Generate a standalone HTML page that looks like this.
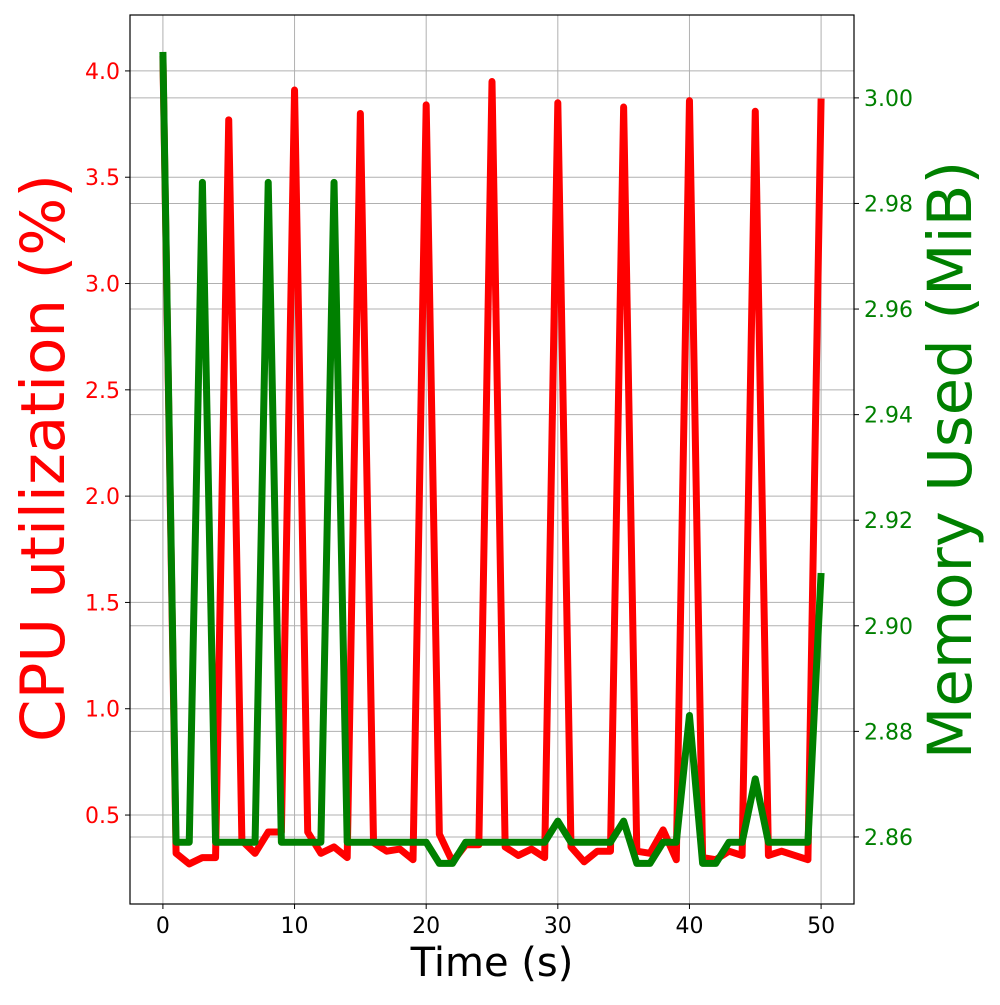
<!DOCTYPE html>
<html><head><meta charset="utf-8"><style>
body{margin:0;background:#fff}
svg text{font-family:"DejaVu Sans","Liberation Sans",sans-serif}
</style></head><body>
<svg id="chart" width="1000" height="1000" xmlns="http://www.w3.org/2000/svg">
<rect width="1000" height="1000" fill="#fff"/>
<g id="grid"></g>
<g id="lines"></g>
<rect x="130" y="15" width="724" height="889" fill="none" stroke="#000" stroke-width="1.2"/>
<g id="ticks"></g>
<text x="492" y="976" font-size="40" text-anchor="middle">Time (s)</text>
<text transform="translate(64,458) rotate(-90)" font-size="61" fill="#ff0000" text-anchor="middle">CPU utilization (%)</text>
<text transform="translate(971,460) rotate(-90)" font-size="61" fill="#008000" text-anchor="middle">Memory Used (MiB)</text>
</svg>
<script>
const times = Array.from({length:51},(_,i)=>i);
const cpuValues = [4.07,0.32,0.27,0.30,0.30,3.77,0.38,0.32,0.42,0.42,3.91,0.42,0.32,0.35,0.30,3.80,0.37,0.33,0.34,0.29,3.84,0.41,0.28,0.36,0.36,3.95,0.35,0.31,0.34,0.30,3.85,0.35,0.28,0.33,0.33,3.83,0.33,0.32,0.43,0.29,3.86,0.30,0.29,0.33,0.31,3.81,0.31,0.33,0.31,0.29,3.87];
const memValues = [3.0087,2.859,2.859,2.984,2.859,2.859,2.859,2.859,2.984,2.859,2.859,2.859,2.859,2.984,2.859,2.859,2.859,2.859,2.859,2.859,2.859,2.855,2.855,2.859,2.859,2.859,2.859,2.859,2.859,2.859,2.863,2.859,2.859,2.859,2.859,2.863,2.855,2.855,2.859,2.859,2.883,2.855,2.855,2.859,2.859,2.871,2.859,2.859,2.859,2.859,2.910];
const xTicks = [0,10,20,30,40,50];
const cpuTicks = [0.5,1.0,1.5,2.0,2.5,3.0,3.5,4.0];
const memTicks = [2.86,2.88,2.90,2.92,2.94,2.96,2.98,3.00];
const X0=130,X1=854,Y0=15,Y1=904;
const xMin=-2.5,xMax=52.5, cMin=0.0816, cMax=4.263, mMin=2.8473, mMax=3.0157;
const sx=v=>X0+(v-xMin)/(xMax-xMin)*(X1-X0);
const sc=v=>Y1-(v-cMin)/(cMax-cMin)*(Y1-Y0);
const sm=v=>Y1-(v-mMin)/(mMax-mMin)*(Y1-Y0);
const NS="http://www.w3.org/2000/svg";
function mk(tag,attrs,parent){const e=document.createElementNS(NS,tag);for(const k in attrs)e.setAttribute(k,attrs[k]);parent.appendChild(e);return e;}
const grid=document.getElementById('grid'),lines=document.getElementById('lines'),ticks=document.getElementById('ticks');
xTicks.forEach(t=>{const x=sx(t);
 let g=mk('line',{x1:x,x2:x,y1:Y0,y2:Y1,stroke:'#b0b0b0','stroke-width':1},grid);
 
 
 let tk=mk('line',{x1:x,x2:x,y1:Y1,y2:Y1+5,stroke:'#000'},ticks);
 
 
 let tx=mk('text',{x:x,y:Y1+29,'font-size':22,'text-anchor':'middle'},ticks);tx.textContent=t;
 
 
});
cpuTicks.forEach(t=>{const y=sc(t);
 let g=mk('line',{x1:X0,x2:X1,y1:y,y2:y,stroke:'#b0b0b0','stroke-width':1},grid);
 
 
 let tk=mk('line',{x1:X0-5,x2:X0,y1:y,y2:y,stroke:'#000'},ticks);
 
 
 let tx=mk('text',{x:X0-10,y:y+8,'font-size':22,'text-anchor':'end',fill:'#ff0000'},ticks);tx.textContent=t.toFixed(1);
 
 
});
memTicks.forEach(t=>{const y=sm(t);
 let g=mk('line',{x1:X0,x2:X1,y1:y,y2:y,stroke:'#b0b0b0','stroke-width':1},grid);
 
 
 let tk=mk('line',{x1:X1,x2:X1+5,y1:y,y2:y,stroke:'#000'},ticks);
 
 
 let tx=mk('text',{x:X1+10,y:y+8,'font-size':22,'text-anchor':'start',fill:'#008000'},ticks);tx.textContent=t.toFixed(2);
 
 
});
const cpuPts=times.map((t,i)=>sx(t)+','+sc(cpuValues[i])).join(' ');
const memPts=times.map((t,i)=>sx(t)+','+sm(memValues[i])).join(' ');
let cl=mk('polyline',{points:cpuPts,fill:'none',stroke:'#ff0000','stroke-width':7,'stroke-linejoin':'round','stroke-linecap':'butt'},lines);


let ml=mk('polyline',{points:memPts,fill:'none',stroke:'#008000','stroke-width':7,'stroke-linejoin':'round','stroke-linecap':'butt'},lines);


</script>
</body></html>
